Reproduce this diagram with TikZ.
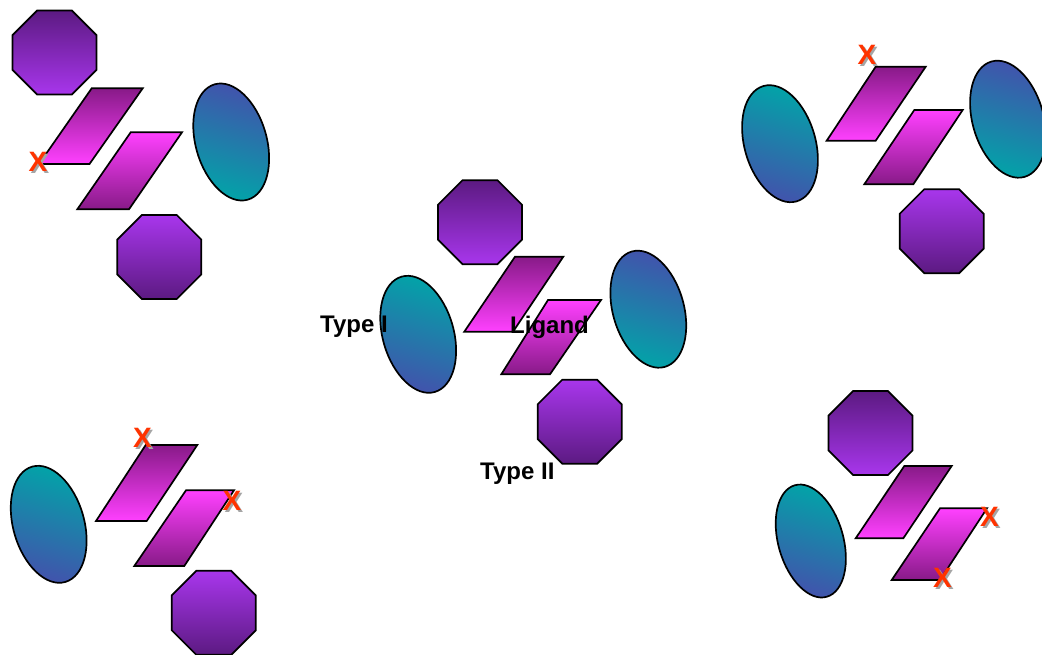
\documentclass[tikz,border=0pt]{standalone}
\usepackage{fontspec}
\setmainfont{Liberation Sans}
\usetikzlibrary{shapes.geometric}
\definecolor{octDark}{RGB}{92,26,130}
\definecolor{octLight}{RGB}{168,54,236}
\definecolor{parDark}{RGB}{136,26,136}
\definecolor{parLight}{RGB}{255,64,255}
\definecolor{ellBlue}{RGB}{68,80,172}
\definecolor{ellTeal}{RGB}{0,166,168}
\definecolor{xRed}{RGB}{255,51,0}
\definecolor{xShadow}{RGB}{165,165,165}
\begin{document}
\begin{tikzpicture}[x=1pt,y=-1pt,
  shapeline/.style={draw=black,line width=1.7pt,line join=miter},
  octbase/.style={shapeline,regular polygon,regular polygon sides=8,minimum size=91pt,inner sep=0pt},
  octdown/.style={octbase,top color=octDark,bottom color=octLight},
  octup/.style={octbase,top color=octLight,bottom color=octDark},
  ellbase/.style={shapeline,ellipse,minimum width=71pt,minimum height=120pt,inner sep=0pt,rotate=16},
  ellbt/.style={ellbase,top color=ellBlue,bottom color=ellTeal,shading angle=-16},
  elltb/.style={ellbase,top color=ellTeal,bottom color=ellBlue,shading angle=-16},
  pardown/.style={shapeline,top color=parDark,bottom color=parLight},
  parup/.style={shapeline,top color=parLight,bottom color=parDark},
  caption/.style={font=\bfseries\fontsize{24}{28}\selectfont,inner sep=0pt,anchor=base west},
  xmark/.style={font=\bfseries\fontsize{28}{30}\selectfont,inner sep=0pt,text=xRed},
  xshadow/.style={font=\bfseries\fontsize{28}{30}\selectfont,inner sep=0pt,text=xShadow},
]
\useasboundingbox (0,0) rectangle (1042,654);
\clip (0,0) rectangle (1042,654);

% ---- top-left group
\node[octdown] (tlo1) at (54.5,52.5) {};
\node[octup] (tlo2) at (159.3,257) {};
\node[ellbt] (tle) at (231.2,142) {};
\shade[pardown] (39,164) -- (89.5,164) -- (142.7,88.3) -- (91.7,88.3) -- cycle;
\shade[parup] (77.3,209.3) -- (129,209.3) -- (182,132.3) -- (130.7,132.3) -- cycle;

% ---- centre group
\node[octdown] (co1) at (480,222.2) {};
\node[octup] (co2) at (579.7,421.7) {};
\node[elltb] (ce1) at (418.2,334.3) {};
\node[ellbt] (ce2) at (648.3,309.2) {};
\shade[pardown] (464.3,331.7) -- (513,331.7) -- (563.3,256.7) -- (515,256.7) -- cycle;
\shade[parup] (501.3,374.3) -- (550,374.3) -- (601,300) -- (548,300) -- cycle;

% ---- top-right group
\node[elltb] (tre1) at (780,143.7) {};
\node[ellbt] (tre2) at (1008,119.2) {};
\node[octup] (tro) at (941.7,231.2) {};
\shade[pardown] (826.7,140.7) -- (875.7,140.7) -- (925.7,66.7) -- (875.7,66.7) -- cycle;
\shade[parup] (864.3,184.3) -- (913.3,184.3) -- (962.7,110) -- (914.3,110) -- cycle;

% ---- bottom-left group
\node[elltb] (ble) at (48.7,524.3) {};
\node[octup] (blo) at (213.8,612.8) {};
\shade[pardown] (96,521) -- (146.7,521) -- (197.3,445) -- (145.7,445) -- cycle;
\shade[parup] (134.3,566) -- (184.3,566) -- (234,490.3) -- (186,490.3) -- cycle;

% ---- bottom-right group
\node[elltb,minimum width=65pt,minimum height=116pt] (bre) at (810.8,541) {};
\node[octdown] (bro) at (870.5,433) {};
\shade[pardown] (855.7,538.3) -- (903.3,538.3) -- (951.7,466) -- (904.3,466) -- cycle;
\shade[parup] (891.7,580) -- (940,580) -- (987,508.3) -- (940,508.3) -- cycle;

% ---- X marks
\foreach \n/\x/\y in {x1/38/161.5, x2/867/55, x3/142.5/438, x4/232/501, x5/989.5/517, x6/942.5/578}{
  \node[xshadow] at (\x+2,\y+2) {X};
  \node[xmark] (\n) at (\x,\y) {X};
}

% ---- labels
\node[caption] (typeI) at (320,332.3) {Type I};
\node[caption] (ligand) at (510,333) {Ligand};
\node[caption] (typeII) at (480,479.3) {Type II};
\end{tikzpicture}
\end{document}
